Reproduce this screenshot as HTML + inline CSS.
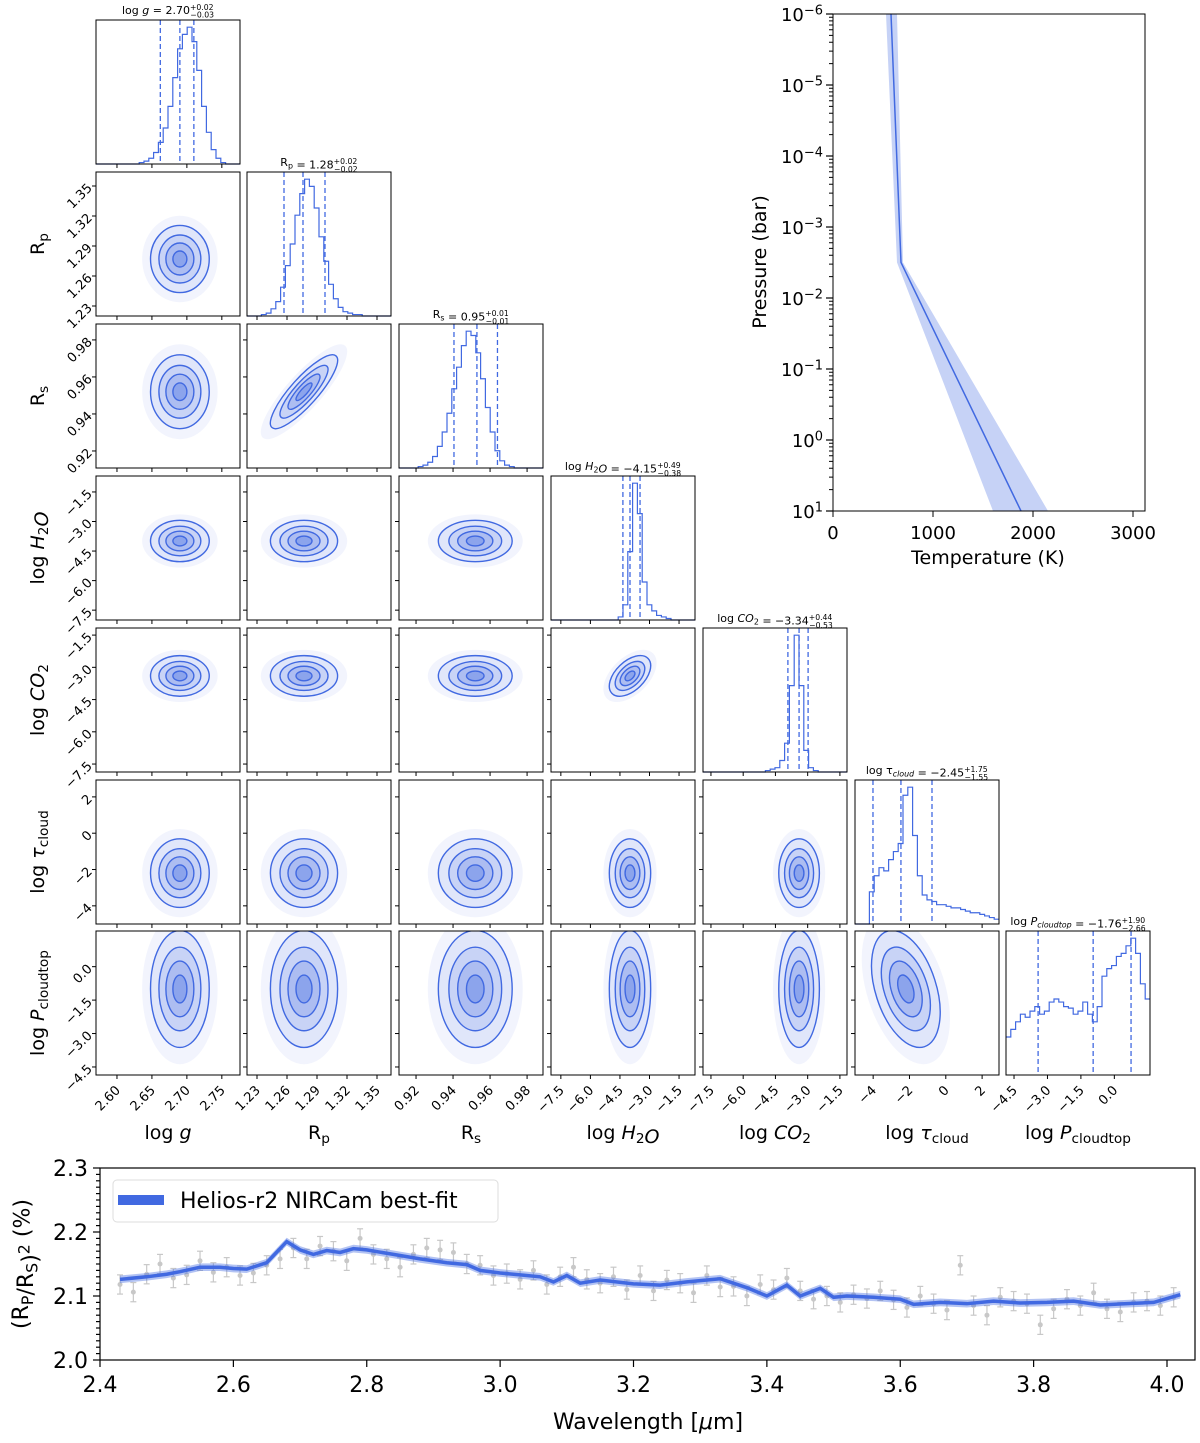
<!DOCTYPE html>
<html><head><meta charset="utf-8">
<style>
body{margin:0;background:#fff;}
svg text{font-family:"DejaVu Sans","Liberation Sans",sans-serif;fill:#000;}
</style></head>
<body>
<svg id="fig" width="1200" height="1438" viewBox="0 0 1200 1438" xmlns="http://www.w3.org/2000/svg"></svg>
<script>
// ---------------- DATA ----------------
const paramLabels = ['log <i>g</i>','R<sub>p</sub>','R<sub>s</sub>','log <i>H</i><sub>2</sub><i>O</i>','log <i>CO</i><sub>2</sub>','log <i>τ</i><sub>cloud</sub>','log <i>P</i><sub>cloudtop</sub>'];
const ranges = [[2.57,2.776],[1.22,1.364],[0.9108,0.9886],[-8.0,-0.69],[-7.87,-1.17],[-5,2.93],[-4.86,1.6]];
const ticks = [[2.60,2.65,2.70,2.75],[1.23,1.26,1.29,1.32,1.35],[0.92,0.94,0.96,0.98],[-7.5,-6.0,-4.5,-3.0,-1.5],[-7.5,-6.0,-4.5,-3.0,-1.5],[-4,-2,0,2],[-4.5,-3.0,-1.5,0.0]];
const tickLabels = [['2.60','2.65','2.70','2.75'],['1.23','1.26','1.29','1.32','1.35'],['0.92','0.94','0.96','0.98'],['−7.5','−6.0','−4.5','−3.0','−1.5'],['−7.5','−6.0','−4.5','−3.0','−1.5'],['−4','−2','0','2'],['−4.5','−3.0','−1.5','0.0']];
const histLogg = [0,0,0,0,0,0,0,0,0,1,2,4,8,15,25,40,60,80,90,95,85,65,40,22,10,4,1,0,0,0];
const histRp   = [0,0,0,1,2,5,10,20,35,50,70,85,95,90,75,55,38,22,12,6,3,2,1,1,0,0,0,0,0,0];
const histRs   = [0,0,0,0,1,2,4,8,15,25,38,55,70,85,95,92,80,62,42,25,12,5,2,1,0,0,0,0,0,0];
const histH2O  = [0,0,0,0,0,0,0,0,0,0,0,0,0,0,2,10,45,90,70,25,10,6,3,2,1,0,0,0,0,0];
const histCO2  = [0,0,0,0,0,0,0,0,0,0,0,0,0,1,2,3,8,20,60,95,60,15,3,1,0,0,0,0,0,0];
const histTau  = [0,0,0,20,30,35,33,40,45,50,80,85,55,30,18,15,14,12,12,11,10,10,9,8,7,7,6,5,4,3];
const histPc   = [25,30,35,40,38,42,45,40,42,48,50,48,45,44,40,42,48,40,35,45,65,70,72,78,80,85,90,80,60,50];
const quantiles = [[2.662,2.69,2.71],[1.257,1.276,1.298],[0.9405,0.9529,0.964],[-4.35,-3.99,-3.48],[-3.92,-3.40,-2.98],[-4.01,-2.47,-0.76],[-3.42,-0.95,0.75]];
const titles = ['log <i>g</i> = 2.70<sup>+0.02</sup><sub>−0.03</sub>','R<sub>p</sub> = 1.28<sup>+0.02</sup><sub>−0.02</sub>','R<sub>s</sub> = 0.95<sup>+0.01</sup><sub>−0.01</sub>','log <i>H</i><sub>2</sub><i>O</i> = −4.15<sup>+0.49</sup><sub>−0.38</sub>','log <i>CO</i><sub>2</sub> = −3.34<sup>+0.44</sup><sub>−0.53</sub>','log τ<sub><i>cloud</i></sub> = −2.45<sup>+1.75</sup><sub>−1.55</sub>','log <i>P</i><sub><i>cloudtop</i></sub> = −1.76<sup>+1.90</sup><sub>−2.66</sub>'];
const centers = [2.69,1.277,0.952,-3.99,-3.4,-2.2,-1.0];
const sigmas  = [0.02,0.016,0.0095,0.5,0.45,0.9,1.25];
// PT profile
const ptT    = [580,680,1880];
const ptP    = [-6,-2.5,1];
const ptLo   = [530,640,1600];
const ptHi   = [640,700,2150];
// spectrum
const specW = [2.43,2.47,2.50,2.52,2.55,2.58,2.60,2.62,2.65,2.68,2.70,2.72,2.74,2.76,2.78,2.80,2.84,2.88,2.92,2.95,2.97,3.00,3.03,3.06,3.08,3.10,3.12,3.15,3.20,3.24,3.28,3.33,3.37,3.40,3.43,3.45,3.48,3.50,3.52,3.56,3.60,3.62,3.66,3.70,3.74,3.78,3.82,3.86,3.90,3.94,3.98,4.02];
const specF = [2.126,2.130,2.134,2.138,2.145,2.145,2.143,2.142,2.152,2.185,2.172,2.165,2.171,2.168,2.174,2.172,2.165,2.158,2.152,2.149,2.140,2.136,2.133,2.130,2.122,2.132,2.120,2.125,2.119,2.117,2.122,2.127,2.113,2.100,2.117,2.100,2.112,2.098,2.100,2.098,2.095,2.087,2.090,2.088,2.092,2.089,2.090,2.092,2.086,2.088,2.090,2.102];
const obsW = [2.43,2.45,2.47,2.49,2.51,2.53,2.55,2.57,2.59,2.61,2.63,2.65,2.67,2.69,2.71,2.73,2.75,2.77,2.79,2.81,2.83,2.85,2.87,2.89,2.91,2.93,2.95,2.97,2.99,3.01,3.03,3.05,3.07,3.09,3.11,3.13,3.15,3.17,3.19,3.21,3.23,3.25,3.27,3.29,3.31,3.33,3.35,3.37,3.39,3.41,3.43,3.45,3.47,3.49,3.51,3.53,3.55,3.57,3.59,3.61,3.63,3.65,3.67,3.69,3.71,3.73,3.75,3.77,3.79,3.81,3.83,3.85,3.87,3.89,3.91,3.93,3.95,3.97,3.99,4.01];
const obsF = [2.118,2.106,2.134,2.150,2.128,2.133,2.155,2.137,2.145,2.132,2.136,2.148,2.158,2.175,2.158,2.178,2.170,2.155,2.190,2.165,2.158,2.145,2.165,2.175,2.172,2.168,2.150,2.148,2.132,2.135,2.126,2.140,2.118,2.130,2.145,2.126,2.120,2.130,2.110,2.132,2.108,2.125,2.120,2.105,2.132,2.114,2.115,2.100,2.118,2.110,2.128,2.108,2.095,2.100,2.090,2.102,2.096,2.108,2.094,2.082,2.100,2.088,2.078,2.148,2.085,2.070,2.098,2.092,2.088,2.055,2.080,2.095,2.085,2.105,2.080,2.075,2.090,2.092,2.085,2.098];
const obsE = 0.015;

// ---------------- HELPERS ----------------
const NS='http://www.w3.org/2000/svg';
const svg=document.getElementById('fig');
function el(tag,attrs,parent){const e=document.createElementNS(NS,tag);for(const k in attrs)e.setAttribute(k,attrs[k]);(parent||svg).appendChild(e);return e;}
function rich(html){
  return html.replace(/<sup>(.*?)<\/sup><sub>(.*?)<\/sub>/g,(m,a,b)=>`<tspan font-size="70%" dy="-0.55em">${a}</tspan><tspan font-size="70%" dx="-3.0em" dy="1.0em">${b}</tspan><tspan dy="-0.45em"></tspan>`)
   .replace(/<sub>(.*?)<\/sub>/g,'<tspan font-size="72%" dy="0.3em">$1</tspan><tspan dy="-0.3em"></tspan>')
   .replace(/<sup>(.*?)<\/sup>/g,'<tspan font-size="72%" dy="-0.5em">$1</tspan><tspan dy="0.5em"></tspan>')
   .replace(/<i>(.*?)<\/i>/g,'<tspan font-style="italic">$1</tspan>');
}
function text(x,y,html,size,anchor,extra,name){const t=el('text',Object.assign({x:x,y:y,'font-size':size,'text-anchor':anchor||'middle'},extra||{}));t.innerHTML=rich(html);


return t;}
const colX=[96,247,399,551,703,855,1006], rowY=[20,172,324,476,628,780,931], S=144;
const BLUE='#4169e1';
function sx(j,v){const r=ranges[j];return colX[j]+(v-r[0])/(r[1]-r[0])*S;}
function sy(i,v){const r=ranges[i];return rowY[i]+S-(v-r[0])/(r[1]-r[0])*S;}
const corr={'2,1':0.85,'4,3':0.5,'6,5':-0.4};

// ---------------- CORNER ----------------
for(let i=0;i<7;i++){
 for(let j=0;j<=i;j++){
  const g=el('g',{});
  
  
  const x0=colX[j],y0=rowY[i];
  if(i===j){
   const h=[histLogg,histRp,histRs,histH2O,histCO2,histTau,histPc][i];
   const mx=Math.max(...h); const n=h.length; let d='';
   for(let b=0;b<n;b++){const xa=x0+b/n*S,xb=x0+(b+1)/n*S,yy=y0+S-h[b]/mx*S*0.95;d+=(b===0?`M${xa},${yy}`:`L${xa},${yy}`)+`L${xb},${yy}`;}
   const p=el('path',{d:d,fill:'none',stroke:BLUE,'stroke-width':1.2},g);
   
   
   quantiles[i].forEach(q=>{const l=el('line',{x1:sx(i,q),x2:sx(i,q),y1:y0,y2:y0+S,stroke:BLUE,'stroke-width':1.3,'stroke-dasharray':'5,3'},g);
     
     });
   text(x0+S/2,y0-6,titles[i],11,'middle',{},'histogram-title');
  } else {
   const cx=sx(j,centers[j]),cy=sy(i,centers[i]);
   const px=sigmas[j]*S/(ranges[j][1]-ranges[j][0]), py=sigmas[i]*S/(ranges[i][1]-ranges[i][0]);
   const rho=corr[i+','+j]||0;
   const a=px*px,c=py*py,b=-rho*px*py;
   const tr=(a+c)/2,dt=Math.sqrt(((a-c)/2)**2+b*b);
   const l1=tr+dt,l2=tr-dt; const ang=Math.atan2(l1-a,b||1e-9)*180/Math.PI;
   const ang2 = b===0 ? (a>=c?0:90) : ang;
   const r1=Math.sqrt(l1),r2=Math.sqrt(Math.max(l2,1e-6));
   const cp=el('clipPath',{id:'cp'+i+j},g);el('rect',{x:x0,y:y0,width:S,height:S},cp);
   const cg=el('g',{'clip-path':`url(#cp${i}${j})`},g);
   [[2.7,0.07,'none'],[2.1,0.1,BLUE],[1.5,0.15,BLUE],[1.0,0.2,BLUE],[0.5,0.3,BLUE]].forEach(([k,al,st])=>{
     const e=el('ellipse',{cx:cx,cy:cy,rx:r1*k,ry:r2*k,transform:`rotate(${ang2} ${cx} ${cy})`,fill:`rgba(65,105,225,${al})`,stroke:st,'stroke-width':1.4},cg);
     
     
   });
  }
  const fr=el('rect',{x:x0,y:y0,width:S,height:S,fill:'none',stroke:'#000','stroke-width':1},g);
  
  
  ticks[j].forEach(v=>el('line',{x1:sx(j,v),x2:sx(j,v),y1:y0+S,y2:y0+S+4,stroke:'#000'},g));
  if(i!==j) ticks[i].forEach(v=>el('line',{x1:x0,x2:x0-4,y1:sy(i,v),y2:sy(i,v),stroke:'#000'},g));
  if(i===6){ticks[j].forEach((v,k)=>{const X=sx(j,v),Y=y0+S+8;text(X+4,Y+8,tickLabels[j][k],13,'end',{transform:`rotate(-45 ${X+4} ${Y+8})`},'x-tick-label');});
   text(x0+S/2,1139,paramLabels[j],19,'middle',{},'x-axis-title');}
  if(j===0&&i>0){ticks[i].forEach((v,k)=>{const Y=sy(i,v);text(x0-6,Y+4,tickLabels[i][k],13,'end',{transform:`rotate(-45 ${x0-6} ${Y})`},'y-tick-label');});
   text(44,y0+S/2,paramLabels[i],19,'middle',{transform:`rotate(-90 44 ${y0+S/2})`},'y-axis-title');}
 }
}

// ---------------- PT PROFILE ----------------
(function(){
 const X0=833,X1=1145,Y0=14,Y1=511;
 const tx=t=>X0+t*(1133-833)/3000, py=p=>Y0+(p+6)*(Y1-Y0)/7;
 const g=el('g',{});
 const cp=el('clipPath',{id:'ptc'},g);el('rect',{x:X0,y:Y0,width:X1-X0,height:Y1-Y0},cp);
 let d='M'+ptLo.map((t,k)=>`${tx(t)},${py(ptP[k])}`).join('L')+'L'+ptHi.slice().reverse().map((t,k)=>`${tx(t)},${py(ptP[ptP.length-1-k])}`).join('L')+'Z';
 const band=el('path',{d:d,fill:'rgba(65,105,225,0.3)','clip-path':'url(#ptc)'},g);
 
 const ln=el('polyline',{points:ptT.map((t,k)=>`${tx(t)},${py(ptP[k])}`).join(' '),fill:'none',stroke:BLUE,'stroke-width':1.5,'clip-path':'url(#ptc)'},g);
 
 el('rect',{x:X0,y:Y0,width:X1-X0,height:Y1-Y0,fill:'none',stroke:'#000'},g);
 for(let e=-6;e<=1;e++){const Y=py(e);el('line',{x1:X0,x2:X0-7,y1:Y,y2:Y,stroke:'#000','stroke-width':1.2},g);
   text(X0-10,Y+7,`10<sup>${e<0?'−'+(-e):e}</sup>`,18,'end',{},'pt-y-tick-label');
   if(e<1)for(let m=2;m<10;m++){const Ym=py(e+Math.log10(m)*-1+1);el('line',{x1:X0,x2:X0-4,y1:Ym,y2:Ym,stroke:'#000','stroke-width':1},g);}}
 [0,1000,2000,3000].forEach(t=>{el('line',{x1:tx(t),x2:tx(t),y1:Y1,y2:Y1+6,stroke:'#000'},g);text(tx(t),Y1+28,String(t),18,'middle',{},'pt-x-tick-label');});
 text(988,564,'Temperature (K)',19,'middle',{},'pt-x-axis-title');
 text(766,262,'Pressure (bar)',19,'middle',{transform:'rotate(-90 766 262)'},'pt-y-axis-title');
})();

// ---------------- SPECTRUM ----------------
(function(){
 const X0=100,X1=1195,Y0=1168,Y1=1360;
 const wx=w=>X0+(w-2.4)*(1167-100)/1.6, fy=f=>Y1-(f-2.0)*640;
 const g=el('g',{});
 obsW.forEach((w,k)=>{const X=wx(w),Y=fy(obsF[k]),e=obsE*640;
  const pg=el('g',{stroke:'#c8c8c8','stroke-width':1.2},g);
  
  el('line',{x1:X,x2:X,y1:Y-e,y2:Y+e},pg);el('line',{x1:X-3,x2:X+3,y1:Y-e,y2:Y-e},pg);el('line',{x1:X-3,x2:X+3,y1:Y+e,y2:Y+e},pg);
  el('circle',{cx:X,cy:Y,r:2.5,fill:'#c8c8c8',stroke:'none'},pg);});
 const up=specW.map((w,k)=>`${wx(w)},${fy(specF[k]+0.006)}`),dn=specW.map((w,k)=>`${wx(w)},${fy(specF[k]-0.006)}`).reverse();
 const band=el('path',{d:'M'+up.join('L')+'L'+dn.join('L')+'Z',fill:'rgba(65,105,225,0.4)'},g);
 
 const ln=el('polyline',{points:specW.map((w,k)=>`${wx(w)},${fy(specF[k])}`).join(' '),fill:'none',stroke:BLUE,'stroke-width':3.5},g);
 
 el('rect',{x:X0,y:Y0,width:X1-X0,height:Y1-Y0,fill:'none',stroke:'#000','stroke-width':1.2},g);
 [2.4,2.6,2.8,3.0,3.2,3.4,3.6,3.8,4.0].forEach(w=>{el('line',{x1:wx(w),x2:wx(w),y1:Y1,y2:Y1+7,stroke:'#000','stroke-width':1.2},g);text(wx(w),Y1+32,w.toFixed(1),22,'middle',{},'spectrum-x-tick-label');});
 for(let k=0;k<=30;k++){const f=2.0+k*0.01,Y=fy(f);el('line',{x1:X0,x2:X0-(k%10===0?7:4),y1:Y,y2:Y,stroke:'#000','stroke-width':1.2},g);
  if(k%10===0)text(X0-12,Y+8,f.toFixed(1),22,'end',{},'spectrum-y-tick-label');}
 text(648,1429,'Wavelength [<i>μ</i>m]',22,'middle',{},'spectrum-x-axis-title');
 text(28,1264,'(R<sub>P</sub>/R<sub>S</sub>)<sup>2</sup> (%)',22,'middle',{transform:'rotate(-90 28 1264)'},'spectrum-y-axis-title');
 const lg=el('g',{},g);
 el('rect',{x:113,y:1180,width:385,height:42,rx:4,fill:'#fff',stroke:'#ddd'},lg);
 el('rect',{x:118,y:1195,width:46,height:10,fill:BLUE},lg);
 text(180,1208,'Helios-r2 NIRCam best-fit',22,'start',{},'legend-entry');
})();
</script>
</body></html>
